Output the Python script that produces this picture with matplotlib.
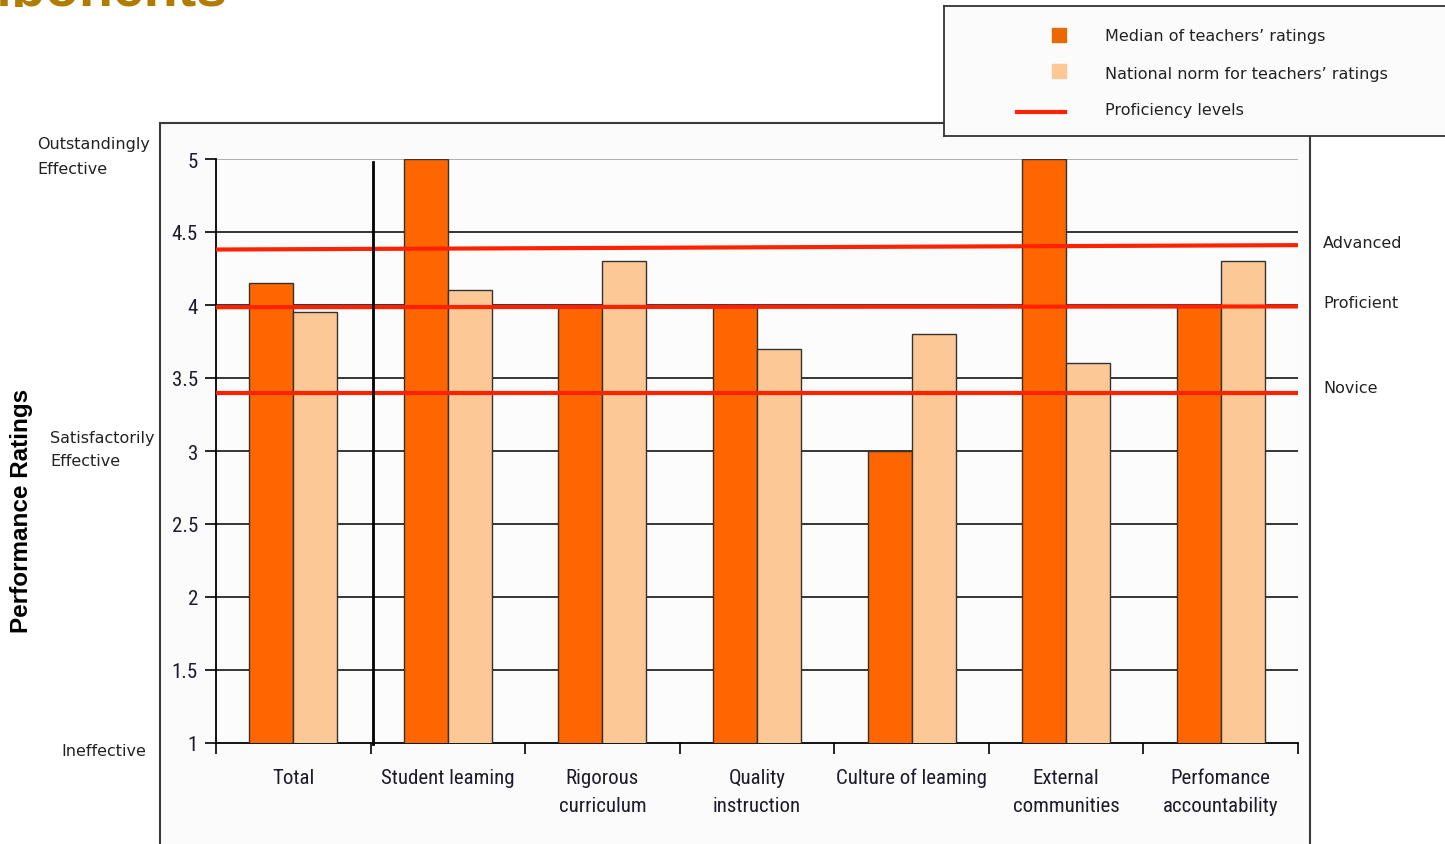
import numpy as np
import matplotlib.pyplot as plt
from matplotlib.patches import Rectangle
from matplotlib.transforms import Bbox
from matplotlib import font_manager

# Ratings per component
categories = ["Total", "Student leaming", "Rigorous\ncurriculum", "Quality\ninstruction",
              "Culture of leaming", "External\ncommunities", "Perfomance\naccountability"]
median_ratings = [4.15, 5.0, 4.0, 4.0, 3.0, 5.0, 4.0]
national_norm = [3.95, 4.1, 4.3, 3.7, 3.8, 3.6, 4.3]

# Proficiency levels (value at left edge, value at right edge)
level_names = ["Advanced", "Proficient", "Novice"]
level_start = [4.38, 3.985, 3.40]
level_end = [4.41, 3.99, 3.40]

scale_labels = ["Outstandingly\nEffective", "Satisfactorily\nEffective", "Ineffective"]

median_color = "#ff6600"
norm_color = "#fcc896"
level_color = "#ff2200"

names = {f.name for f in font_manager.fontManager.ttflist}
narrow = "Liberation Sans"
for cand in ["Liberation Sans Narrow", "Arial Narrow", "Roboto Condensed", "Open Sans Condensed"]:
    if cand in names:
        narrow = cand
        break

W, H = 1445, 845
fig = plt.figure(figsize=(W / 100, H / 100), dpi=100, facecolor="white")

def fx(px):
    return px / W

def fy(py):
    return 1 - py / H

# title cut off at the top of the page
title = fig.text(fx(228), fy(6), "Components", ha="right", va="baseline", fontsize=40,
                 fontweight="bold", color="#b07c00", family="Liberation Sans")
title.set_clip_box(Bbox([[0, H - 8], [W, H]]))
title.set_clip_on(True)

# outer chart frame
frame = Rectangle((fx(160), fy(850)), fx(1310) - fx(160), fy(124) - fy(850),
                  transform=fig.transFigure, facecolor="#fbfbfb",
                  edgecolor="#3a3a3a", lw=1.5, zorder=0)
fig.patches.append(frame)

ax = fig.add_axes([fx(216), fy(744), fx(1298) - fx(216), fy(160) - fy(744)])
ax.set_zorder(2)
ax.set_facecolor("#fcfcfc")

x = np.arange(len(categories)) + 0.5
w = 0.285
ax.bar(x - w / 2, median_ratings, w, bottom=0, color=median_color,
       edgecolor="#333333", lw=1, zorder=3)
ax.bar(x + w / 2, national_norm, w, bottom=0, color=norm_color,
       edgecolor="#333333", lw=1, zorder=3)

ax.set_xlim(0, len(categories))
ax.set_ylim(1, 5)

# gridlines
for yv in np.arange(1.5, 5.0, 0.5):
    ax.axhline(yv, color="black", lw=1.1, zorder=1)
ax.axhline(5, color="#999999", lw=1.1, zorder=1)

# proficiency level lines across the whole plot
for ys, ye in zip(level_start, level_end):
    ax.plot([0, len(categories)], [ys, ye], color=level_color, lw=3.0,
            solid_capstyle="butt", zorder=5)

# separator between the total and the components
ax.plot([1.016, 1.016], [4.98, 0.99], color="black", lw=2, zorder=6, clip_on=False)

for side in ["top", "right"]:
    ax.spines[side].set_visible(False)
ax.spines["left"].set_linewidth(1.3)
ax.spines["bottom"].set_linewidth(1.3)

ax.set_yticks(np.arange(1, 5.01, 0.5))
ax.set_yticklabels(["1", "1.5", "2", "2.5", "3", "3.5", "4", "4.5", "5"])
ax.tick_params(axis="y", length=8, width=1.2, pad=5, labelsize=15, labelcolor="#1c1c2c")
for t in ax.get_yticklabels():
    t.set_family(narrow)

ax.set_xticks(np.arange(len(categories) + 1))
ax.set_xticklabels([])
ax.set_xticks(x, minor=True)
ax.set_xticklabels(categories, minor=True, family=narrow,
                   fontsize=15 if narrow != "Liberation Sans" else 14.5,
                   color="#1c1c2c", linespacing=1.6, va="top")
ax.tick_params(axis="x", which="major", length=8, width=1.2)
ax.tick_params(axis="x", which="minor", length=0, pad=18)

# rating scale descriptions on the left
for lab, px, py in zip(scale_labels, [37, 50, 61], [157, 450, 751]):
    fig.text(fx(px), fy(py), lab, ha="left", va="center", fontsize=11.5,
             color="#222222", family="DejaVu Sans", linespacing=1.75)

fig.text(fx(22), fy(511), "Performance Ratings", rotation=90, ha="center", va="center",
         fontsize=17.5, fontweight="bold", family="Liberation Sans", color="black")

# level names on the right
for name, yy in zip(level_names, [243, 304, 389]):
    fig.text(fx(1323), fy(yy), name, ha="left", va="center", fontsize=11.5,
             color="#222222", family="DejaVu Sans")

# legend box
lg = fig.add_axes([fx(944), fy(137), fx(1450) - fx(944), fy(7) - fy(137)])
lg.set_zorder(3)
lg.set_xlim(944, 1450)
lg.set_ylim(137, 7)
lg.set_facecolor("#fbfbfb")
for s in lg.spines.values():
    s.set_color("#333333")
    s.set_linewidth(1.3)
lg.set_xticks([])
lg.set_yticks([])
lg.scatter([1059], [36], marker="s", s=95, color="#e86a00")
lg.scatter([1059], [72], marker="s", s=95, color=norm_color)
lg.plot([1017, 1065], [113, 113], color=level_color, lw=3.0)
for txt, yy in zip(["Median of teachers\u2019 ratings", "National norm for teachers\u2019 ratings",
                    "Proficiency levels"], [37, 74, 111]):
    lg.text(1105, yy, txt, ha="left", va="center", fontsize=11.5, color="#222222",
            family="DejaVu Sans")

fig.savefig("out.png", dpi=100, facecolor="white")
